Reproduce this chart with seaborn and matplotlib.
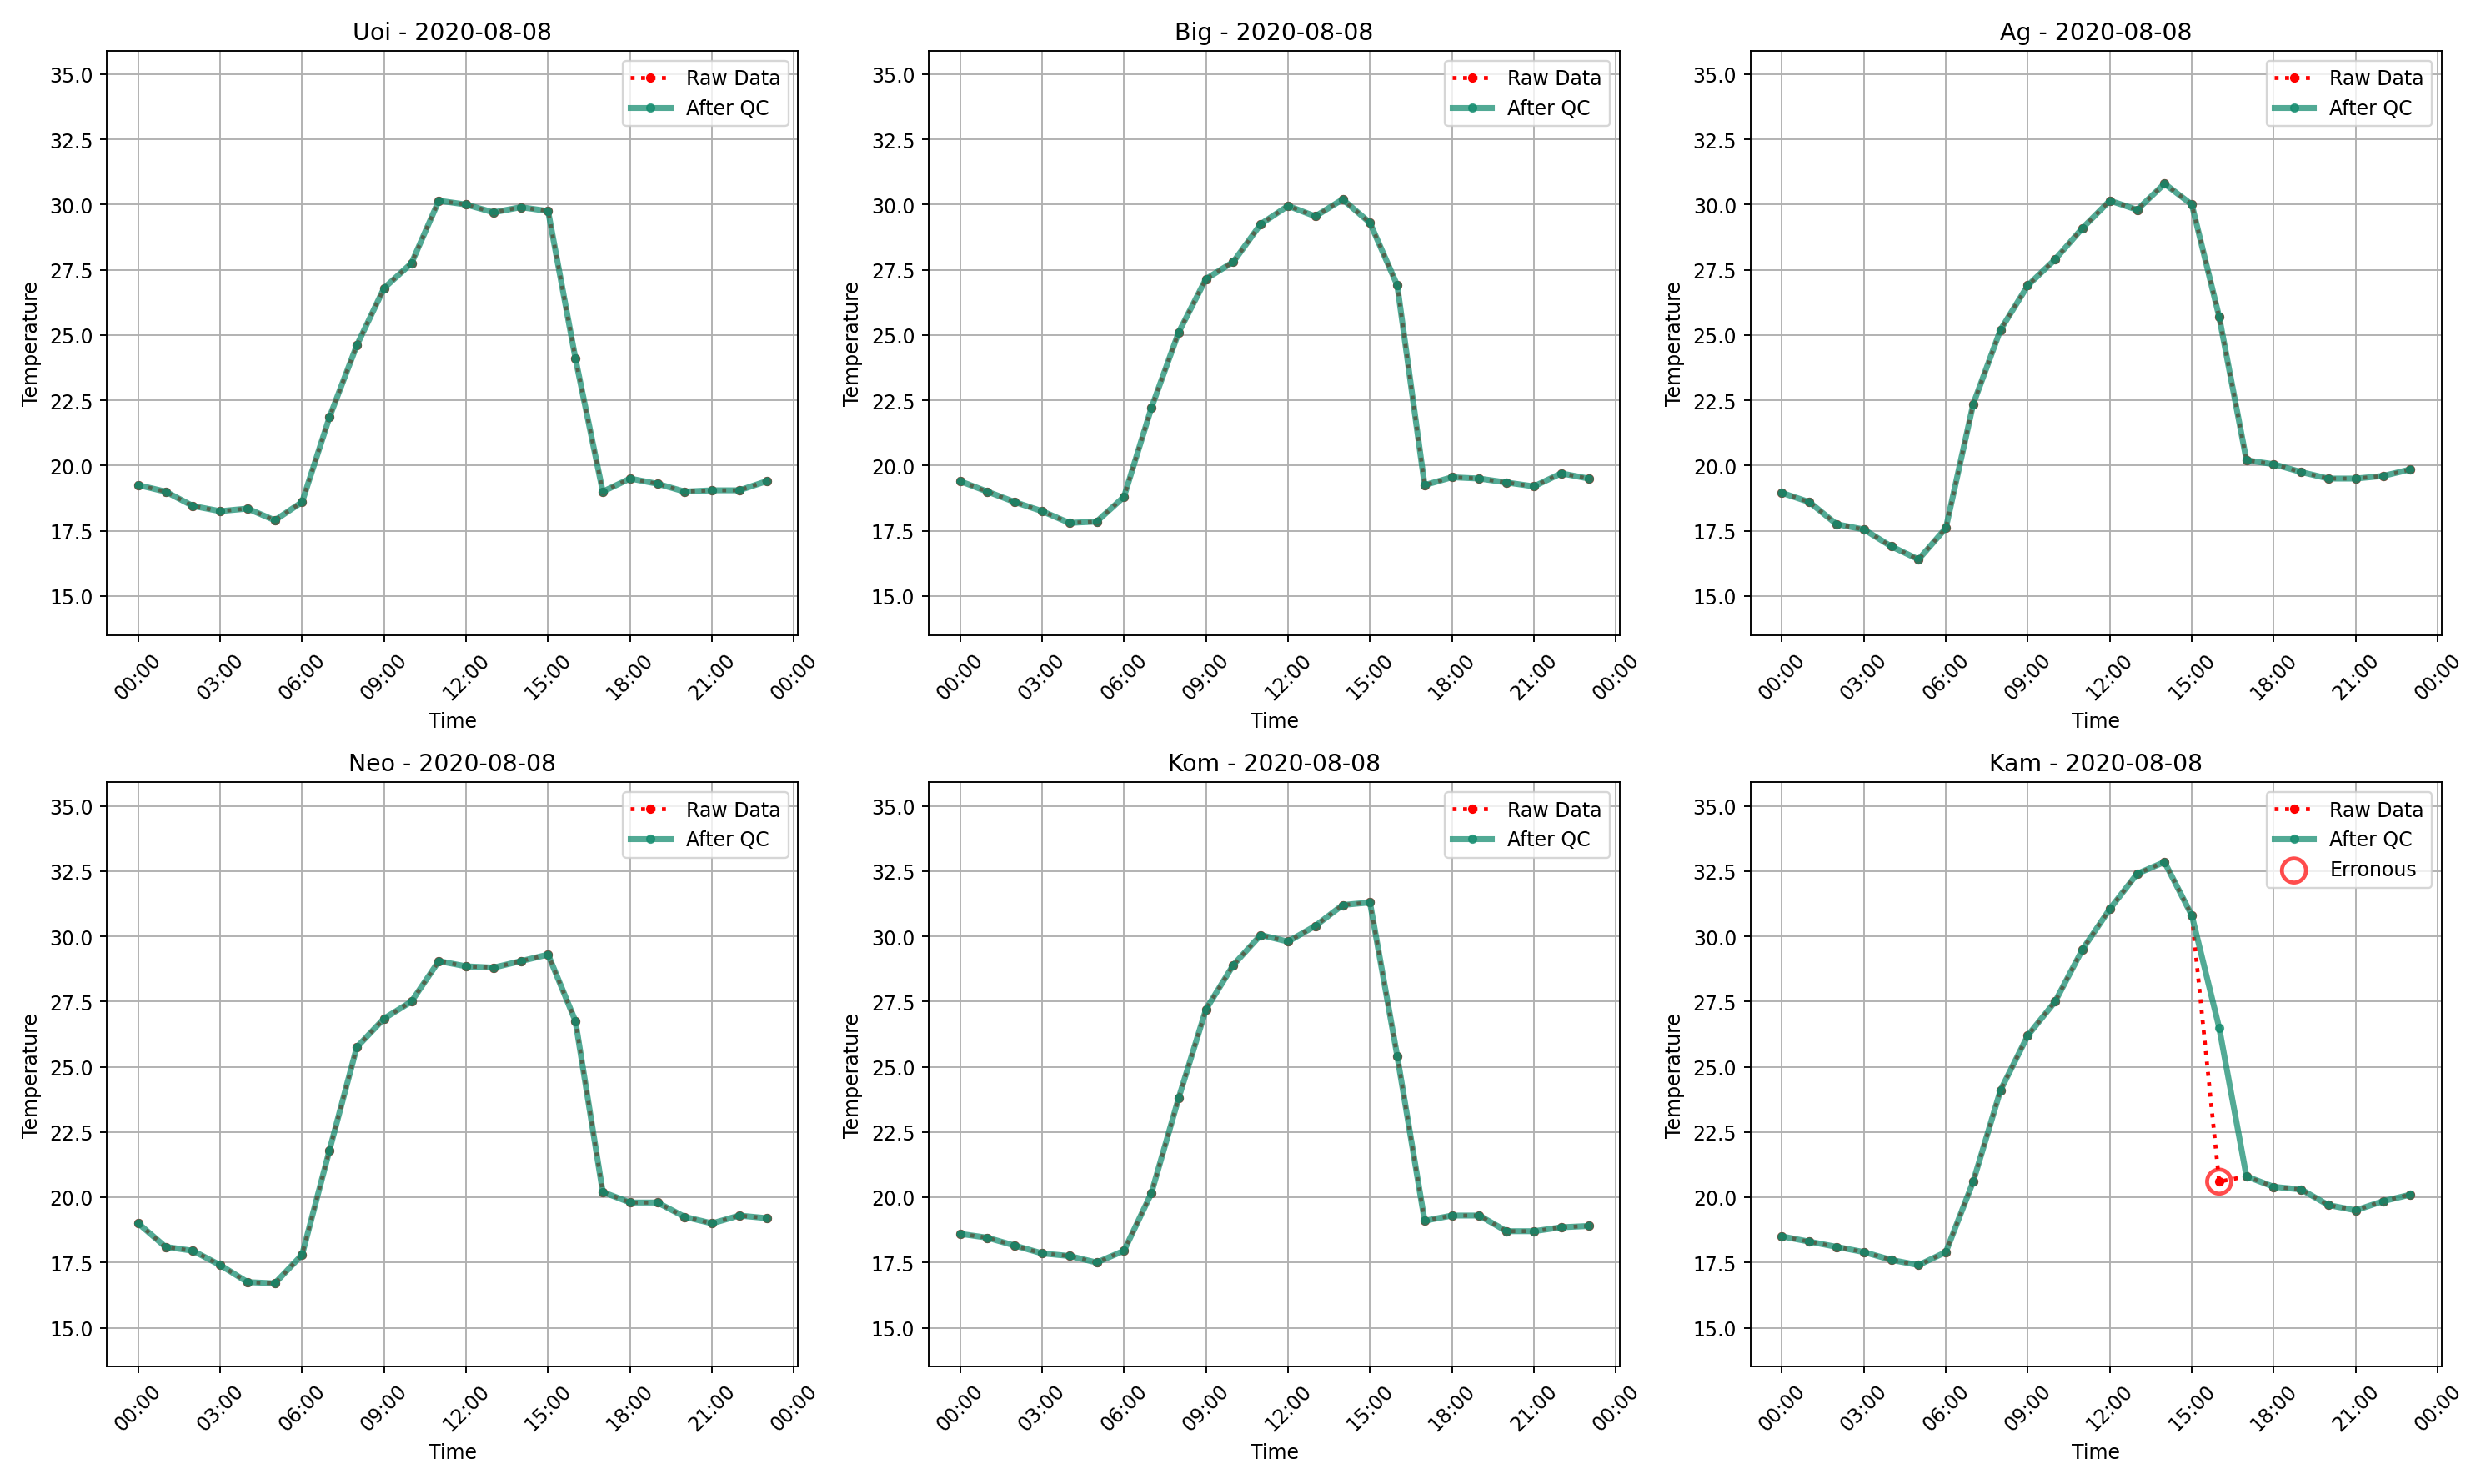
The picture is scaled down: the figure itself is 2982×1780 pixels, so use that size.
import numpy as np, pandas as pd
import matplotlib
matplotlib.use("Agg")
import matplotlib.pyplot as plt
import matplotlib.dates as mdates
import seaborn as sns

date = "2020-08-08"
hours = pd.date_range("2020-08-08 00:00", periods=24, freq="h")
stations = ["Uoi", "Big", "Ag", "Neo", "Kom", "Kam"]
uoi = [19.25,19.0,18.45,18.25,18.35,17.9,18.6,21.85,24.6,26.8,27.75,30.15,30.0,29.7,29.9,29.75,24.1,19.0,19.5,19.3,19.0,19.05,19.05,19.4]
big = [19.4,19.0,18.6,18.25,17.8,17.85,18.8,22.2,25.1,27.15,27.8,29.25,29.95,29.55,30.2,29.3,26.9,19.25,19.55,19.5,19.35,19.2,19.7,19.5]
ag = [18.95,18.6,17.75,17.55,16.9,16.4,17.6,22.35,25.2,26.9,27.9,29.1,30.15,29.8,30.8,30.0,25.7,20.2,20.05,19.75,19.5,19.5,19.6,19.85]
neo = [19.0,18.1,17.95,17.4,16.75,16.7,17.8,21.8,25.75,26.85,27.5,29.05,28.85,28.8,29.05,29.3,26.75,20.2,19.8,19.8,19.25,19.0,19.3,19.2]
kom = [18.6,18.45,18.15,17.85,17.75,17.5,17.95,20.15,23.8,27.2,28.9,30.05,29.8,30.4,31.2,31.3,25.4,19.1,19.3,19.3,18.7,18.7,18.85,18.9]
kam_raw = [18.5,18.3,18.1,17.9,17.6,17.4,17.9,20.6,24.1,26.2,27.5,29.5,31.05,32.4,32.85,30.8,20.6,20.8,20.4,20.3,19.7,19.5,19.85,20.1]
kam_qc = [18.5,18.3,18.1,17.9,17.6,17.4,17.9,20.6,24.1,26.2,27.5,29.5,31.05,32.4,32.85,30.8,26.5,20.8,20.4,20.3,19.7,19.5,19.85,20.1]
raw = [uoi, big, ag, neo, kom, kam_raw]
qc = [uoi, big, ag, neo, kom, kam_qc]

plt.rcParams['font.family'] = ['DejaVu Sans']
fig, axes = plt.subplots(2, 3, figsize=(17.547, 10.476), dpi=170)
for ax, name, r, q in zip(axes.flat, stations, raw, qc):
    df = pd.DataFrame({"Time": hours, "raw": r, "qc": q})
    sns.lineplot(data=df, x="Time", y="raw", ax=ax, color="red", linestyle=":", marker=".",
                 markersize=8, markeredgecolor="red", linewidth=2, label="Raw Data")
    sns.lineplot(data=df, x="Time", y="qc", ax=ax, color="#0f8a6c", alpha=0.72, marker=".",
                 markersize=8, markeredgecolor="#0f8a6c", linewidth=3, label="After QC")
    err = df[df.raw != df.qc]
    if len(err):
        ax.scatter(err.Time, err.raw, s=150, facecolors="none", edgecolors="red", alpha=0.7,
                   linewidths=2, label="Erronous", zorder=5)
    ax.set_title(f"{name} - {date}")
    ax.set_ylabel("Temperature")
    ax.set_xlabel("Time")
    ax.set_ylim(13.5, 35.9)
    ax.xaxis.set_major_locator(mdates.HourLocator(byhour=range(0, 24, 3)))
    ax.xaxis.set_major_formatter(mdates.DateFormatter("%H:%M"))
    ax.tick_params(axis="x", rotation=45)
    ax.grid(True, color="#b0b0b0")
    ax.legend(loc="upper right")
fig.tight_layout()
fig.savefig("out.png")
